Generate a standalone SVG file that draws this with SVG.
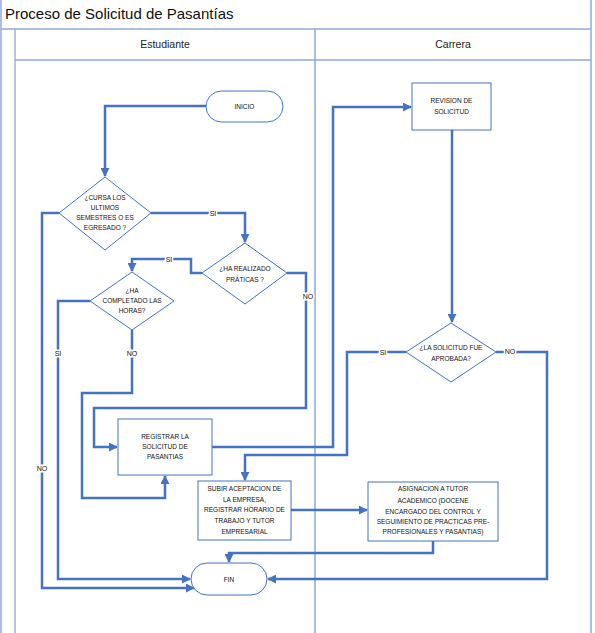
<svg xmlns="http://www.w3.org/2000/svg" width="595" height="633" viewBox="0 0 595 633">
<defs>
<style>
.frame{stroke:#8FA8DA;stroke-width:1.5;fill:none}
.node{fill:#fff;stroke:#4472C4;stroke-width:1}
.conn{fill:none;stroke:#4472C4;stroke-width:2.5;stroke-linejoin:miter}
.t{font-family:"Liberation Sans",Arial,sans-serif;font-size:6.5px;fill:#111;text-anchor:middle}
.lbl{font-family:"Liberation Sans",Arial,sans-serif;font-size:7px;fill:#111;text-anchor:middle;paint-order:stroke;stroke:#fff;stroke-width:3px}
.hdr{font-family:"Liberation Sans",Arial,sans-serif;font-size:10.5px;fill:#222;text-anchor:middle}
</style>
<marker id="arr" viewBox="0 0 10 10" refX="9" refY="5" markerWidth="9" markerHeight="9" markerUnits="userSpaceOnUse" orient="auto">
<path d="M0,0 L10,5 L0,10 z" fill="#4472C4"/>
</marker>
</defs>
<rect width="595" height="633" fill="#fff"/>
<g id="frame">
<line class="frame" x1="1" y1="0" x2="1" y2="633"/>
<line class="frame" x1="591" y1="0" x2="591" y2="633"/>
<line class="frame" x1="1" y1="29" x2="591" y2="29"/>
<line x1="15" y1="29" x2="15" y2="633" stroke="#A9AEE0" stroke-width="1.5"/>
<line class="frame" x1="15" y1="60" x2="591" y2="60"/>
<line class="frame" x1="315" y1="29" x2="315" y2="633"/>
<text x="5" y="19" font-family="'Liberation Sans',Arial,sans-serif" font-size="15" fill="#111">Proceso de Solicitud de Pasantías</text>
<text class="hdr" x="165" y="48">Estudiante</text>
<text class="hdr" x="453" y="48">Carrera</text>
</g>
<g id="connectors">
<path class="conn" d="M206,106 H105 V176" marker-end="url(#arr)"/>
<path class="conn" d="M151,213 H245 V242" marker-end="url(#arr)"/>
<path class="conn" d="M202,273 H191 V259 H132 V271" marker-end="url(#arr)"/>
<path class="conn" d="M287,273 H306 V408 H94 V447 H117" marker-end="url(#arr)"/>
<path class="conn" d="M90,301 H58 V579 H190" marker-end="url(#arr)"/>
<path class="conn" d="M132,330 V393 H82 V498 H165 V476" marker-end="url(#arr)"/>
<path class="conn" d="M59,213 H42 V588 H194" marker-end="url(#arr)"/>
<path class="conn" d="M212,447 H333 V107 H411" marker-end="url(#arr)"/>
<path class="conn" d="M452,130 V322" marker-end="url(#arr)"/>
<path class="conn" d="M406,352 H347 V455 H245 V480" marker-end="url(#arr)"/>
<path class="conn" d="M291,510 H367" marker-end="url(#arr)"/>
<path class="conn" d="M433,541 V553 H229 V562" marker-end="url(#arr)"/>
<path class="conn" d="M496,352 H547 V579 H268" marker-end="url(#arr)"/>
<text class="lbl" x="213" y="216">SI</text>
<text class="lbl" x="169" y="262">SI</text>
<text class="lbl" x="308" y="299">NO</text>
<text class="lbl" x="58" y="356">SI</text>
<text class="lbl" x="132" y="356">NO</text>
<text class="lbl" x="42" y="471">NO</text>
<text class="lbl" x="383" y="355">SI</text>
<text class="lbl" x="510" y="354">NO</text>
</g>
<g id="inicio">
<rect class="node" x="206" y="91" width="77" height="31" rx="15.5"/>
<text class="t" x="244.5" y="109">INICIO</text>
</g>
<g id="d1">
<polygon class="node" points="105,177 151,213 105,250 59,213"/>
<text class="t" x="105" y="200">¿CURSA LOS</text>
<text class="t" x="105" y="210">ULTIMOS</text>
<text class="t" x="105" y="220">SEMESTRES O ES</text>
<text class="t" x="105" y="230">EGRESADO ?</text>
</g>
<g id="d2">
<polygon class="node" points="245,243 287,273 245,304 202,273"/>
<text class="t" x="245" y="271">¿HA REALIZADO</text>
<text class="t" x="245" y="282">PRÁTICAS ?</text>
</g>
<g id="d3">
<polygon class="node" points="132,272 174,301 132,330 90,301"/>
<text class="t" x="132" y="293">¿HA</text>
<text class="t" x="132" y="303">COMPLETADO LAS</text>
<text class="t" x="132" y="313">HORAS?</text>
</g>
<g id="registrar">
<rect class="node" x="118" y="419" width="94" height="56"/>
<text class="t" x="165" y="439">REGISTRAR LA</text>
<text class="t" x="165" y="449">SOLICITUD DE</text>
<text class="t" x="165" y="459">PASANTIAS</text>
</g>
<g id="revision">
<rect class="node" x="412" y="83" width="79" height="47"/>
<text class="t" x="451.5" y="103">REVISION DE</text>
<text class="t" x="451.5" y="114">SOLICITUD</text>
</g>
<g id="d4">
<polygon class="node" points="451,323 496,352 451,382 406,352"/>
<text class="t" x="451" y="350">¿LA SOLICITUD FUE</text>
<text class="t" x="451" y="361">APROBADA?</text>
</g>
<g id="subir">
<rect class="node" x="198" y="481" width="93" height="59"/>
<text class="t" x="244.5" y="491">SUBIR ACEPTACION DE</text>
<text class="t" x="244.5" y="502">LA EMPRESA,</text>
<text class="t" x="244.5" y="512">REGISTRAR HORARIO DE</text>
<text class="t" x="244.5" y="523">TRABAJO Y TUTOR</text>
<text class="t" x="244.5" y="534">EMPRESARIAL</text>
</g>
<g id="asignacion">
<rect class="node" x="368" y="482" width="130" height="59"/>
<text class="t" x="433" y="491">ASIGNACION A TUTOR</text>
<text class="t" x="433" y="503">ACADEMICO (DOCENE</text>
<text class="t" x="433" y="514">ENCARGADO DEL CONTROL Y</text>
<text class="t" x="433" y="524">SEGUIMIENTO DE PRACTICAS PRE-</text>
<text class="t" x="433" y="534">PROFESIONALES Y PASANTIAS)</text>
</g>
<g id="fin">
<rect class="node" x="191" y="563" width="76" height="32" rx="16"/>
<text class="t" x="229" y="582">FIN</text>
</g>
</svg>
